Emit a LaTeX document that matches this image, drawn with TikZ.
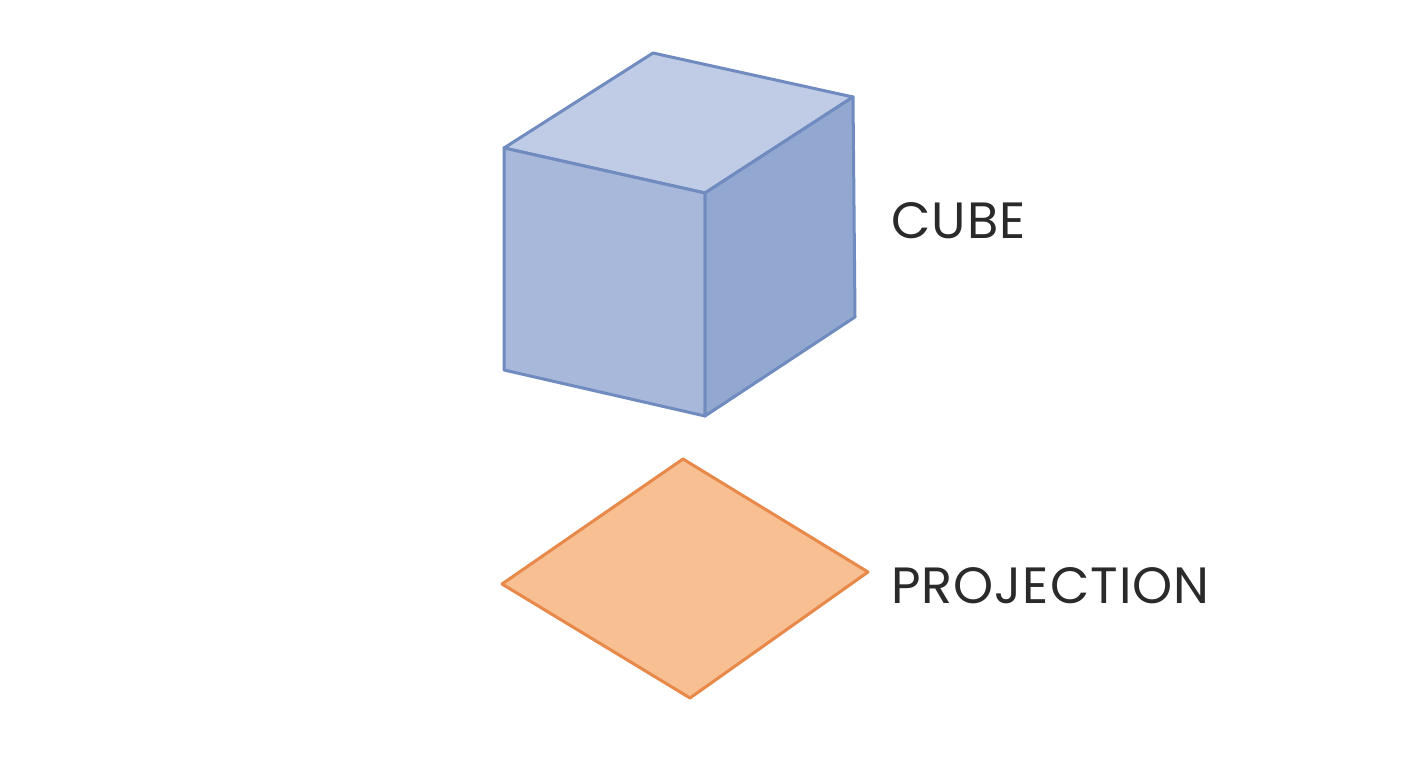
\documentclass[tikz,border=0pt]{standalone}
\usepackage{fontspec}
\setmainfont{Poppins}[LetterSpace=2]
\definecolor{topc}{HTML}{C0CCE6}
\definecolor{frontc}{HTML}{A8B8DA}
\definecolor{rightc}{HTML}{92A8D0}
\definecolor{edgec}{HTML}{6F8BBF}
\definecolor{orf}{HTML}{F7BF92}
\definecolor{ore}{HTML}{E8894A}
\definecolor{txt}{HTML}{2A2A2A}
\begin{document}
\begin{tikzpicture}[x=1pt,y=-1pt,
  face/.style={draw=edgec,line width=3pt,line join=round},
  lab/.style={anchor=west,text=txt,font=\fontsize{51}{51}\selectfont,inner sep=0pt}]
\useasboundingbox (0,0) rectangle (1408,768);
\fill[white] (0,0) rectangle (1408,768);
\coordinate (a) at (504,148); \coordinate (b) at (653,53);
\coordinate (c) at (853,97); \coordinate (d) at (705,193);
\coordinate (e) at (705,416); \coordinate (f) at (504,370);
\coordinate (g) at (855,317);
\filldraw[face,fill=topc] (a)--(b)--(c)--(d)--cycle;
\filldraw[face,fill=frontc] (a)--(d)--(e)--(f)--cycle;
\filldraw[face,fill=rightc] (d)--(c)--(g)--(e)--cycle;
\coordinate (p1) at (683,459); \coordinate (p2) at (868,572);
\coordinate (p3) at (690,698); \coordinate (p4) at (502,584);
\filldraw[draw=ore,fill=orf,line width=3pt,line join=round] (p1)--(p2)--(p3)--(p4)--cycle;
\node[lab] (cube) at (891,221) {CUBE};
\node[lab] (proj) at (891,586) {PROJECTION};
\end{tikzpicture}
\end{document}
